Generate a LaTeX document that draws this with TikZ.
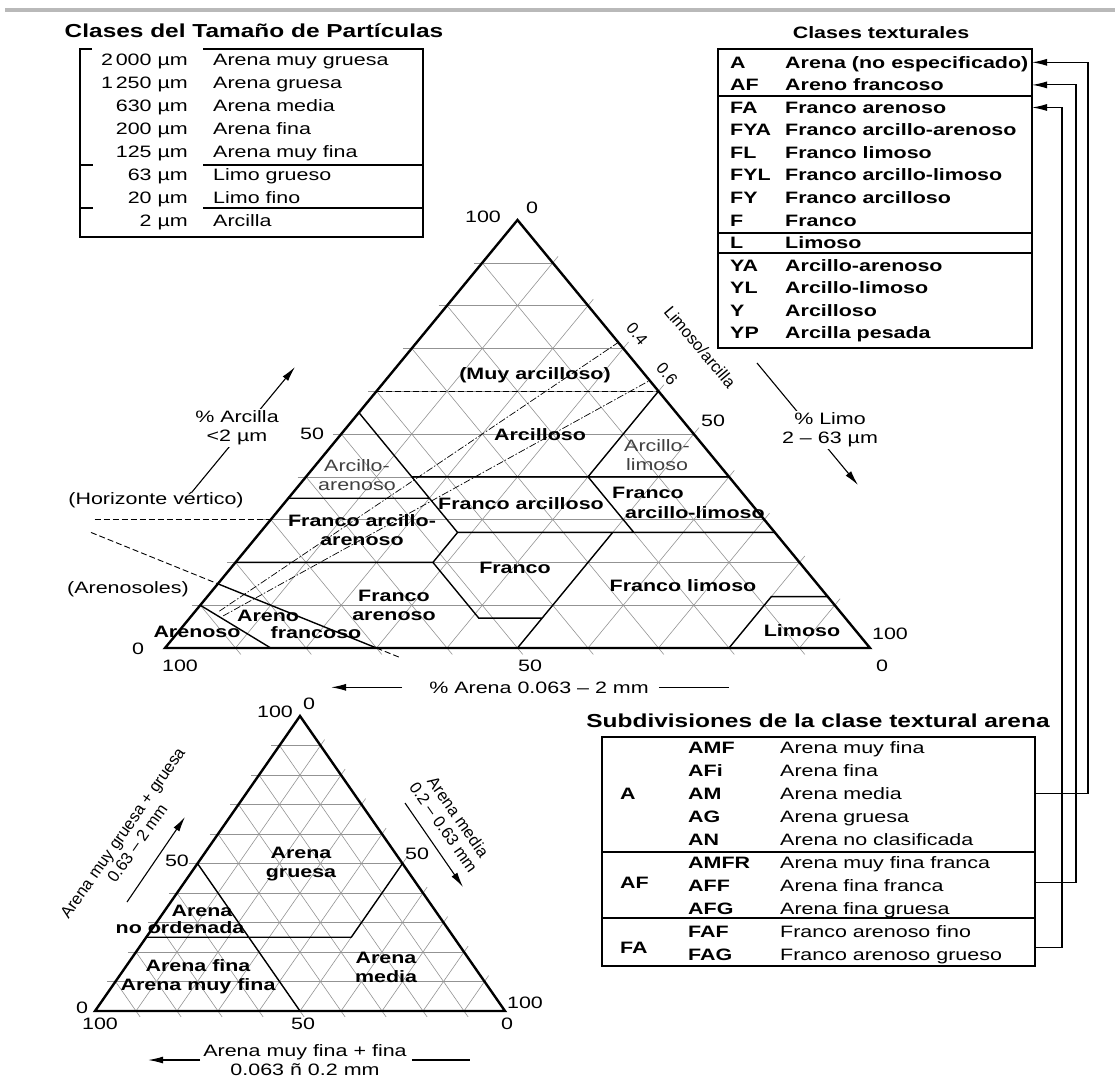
\documentclass[tikz,border=0pt]{standalone}
\usepackage{fontspec}
\setmainfont{Liberation Sans}[FakeStretch=1.3]
\newfontfamily\girada{Liberation Sans}
\usetikzlibrary{arrows.meta}
\tikzset{
  rejilla/.style={gray!85, line width=0.6pt},
  borde/.style={line width=2.4pt, line join=miter},
  limite/.style={line width=1.4pt},
  guiones/.style={line width=0.9pt, dash pattern=on 6pt off 3pt},
  tabla/.style={line width=1.2pt},
  titulo/.style={font=\fontsize{18.8}{21}\selectfont\bfseries},
  negrita/.style={font=\fontsize{16.5}{19}\selectfont\bfseries},
  clase/.style={negrita, align=center},
  giro/.style={font=\girada\fontsize{16.5}{18}\selectfont, align=center},
  flecha/.style={-{Latex[length=15pt,width=7pt]}, line width=1.1pt},
}
\begin{document}
\begin{tikzpicture}[x=1pt,y=-1pt,font=\fontsize{16.5}{19}\selectfont,inner sep=0pt]
\useasboundingbox (0,0) rectangle (1115,1079);
\draw[gray!55, line width=4pt] (5,10) -- (1115,10);

% Tamano de particulas
\node[titulo,anchor=base] (tpart) at (254,37) {Clases del Tamaño de Partículas};
\draw[tabla] (92,49) -| (80,237) -| (423,49) -- (203,49);
\draw[tabla] (80,165) -- (93,165) (203,165) -- (423,165)
             (80,208) -- (93,208) (203,208) -- (423,208);
\foreach \tam/\nom [count=\i] in {2\,000/Arena muy gruesa,1\,250/Arena gruesa,630/Arena media,
    200/Arena fina,125/Arena muy fina,63/Limo grueso,20/Limo fino,2/Arcilla}
  {\node[anchor=base east] (tam\i) at (188,65+23*\i-23) {\tam~µm};
   \node[anchor=base west] (par\i) at (213,65+23*\i-23) {\nom};}

% Clases texturales
\node[negrita,anchor=base] (tclases) at (881,38) {Clases texturales};
\draw[tabla] (718,49) rectangle (1032,348);
\coordinate (clasesD) at (1032,49);
\draw[tabla] (718,96) -- (1032,96) (718,233) -- (1032,233) (718,253) -- (1032,253);
\foreach \cod/\nom [count=\i] in {A/Arena (no especificado),AF/Areno francoso,FA/Franco arenoso,
    FYA/Franco arcillo-arenoso,FL/Franco limoso,FYL/Franco arcillo-limoso,FY/Franco arcilloso,
    F/Franco,L/Limoso,YA/Arcillo-arenoso,YL/Arcillo-limoso,Y/Arcilloso,YP/Arcilla pesada}
  {\node[negrita,anchor=base west] (c\cod) at (730,68+22.58*\i-22.58) {\cod};
   \node[negrita,anchor=base west] (n\cod) at (785,68+22.58*\i-22.58) {\nom};}

% Subdivisiones de la arena
\node[titulo,anchor=base] (tsub) at (818,727) {Subdivisiones de la clase textural arena};
\draw[tabla] (602,737) rectangle (1035,966);
\coordinate (subdivD) at (1035,737);
\draw[tabla] (602,852) -- (1035,852) (602,918) -- (1035,918);
\foreach \cod/\nom [count=\i] in {AMF/Arena muy fina,AFi/Arena fina,AM/Arena media,AG/Arena gruesa,
    AN/Arena no clasificada,AMFR/Arena muy fina franca,AFF/Arena fina franca,AFG/Arena fina gruesa,
    FAF/Franco arenoso fino,FAG/Franco arenoso grueso}
  {\node[negrita,anchor=base west] (s\cod) at (688,753+23.1*\i-23.1) {\cod};
   \node[anchor=base west] (d\cod) at (780,753+23.1*\i-23.1) {\nom};}
\node[negrita,anchor=base west] (gA) at (620,799) {A};
\node[negrita,anchor=base west] (gAF) at (620,888) {AF};
\node[negrita,anchor=base west] (gFA) at (620,953) {FA};
% Flechas entre tablas
\draw[flecha] (subdivD |- gA) -- ++(53,0) |- (clasesD |- cA);
\draw[flecha] (subdivD |- gAF) -- ++(41,0) |- (clasesD |- cAF);
\draw[flecha] (subdivD |- gFA) -- ++(27,0) |- (clasesD |- cFA);

% Triangulo principal (x = limo, y = arcilla)
\begin{scope}[shift={(165pt,-648pt)},x={(7.05pt,0pt)},y={(3.525pt,4.28pt)}]
\foreach \v in {10,20,...,90}{
  \draw[rejilla] (-1.2,\v) -- (100-\v,\v);
  \draw[rejilla] (\v,0) -- (\v,101.5-\v);
  \draw[rejilla] (101.5-\v,-1.5) -- (0,100-\v);
}
\draw[limite,dash pattern=on 6pt off 3pt] (0,60) -- (40,60);
\draw[limite] (40,60) -- (40,40) (15,40) -- (60,40) (0,55) -- (28,27)
   (0,35) -- (20,35) (40,40) -- (53,27) (28,27) -- (73,27)
   (0,20) -- (28,20) -- (41,7) -- (50,7) (28,27) -- (28,20) (50,27) -- (50,0)
   (80,0) -- (80,12) -- (88,12) (0,10) -- (15,0) (0,15) -- (30,0);
% Horizonte vertico y Arenosoles
\draw[guiones] (-25,30) -- (0,30);
\draw[guiones] (-24,27) -- (0,15) (30,0) -- (34.5,-2.25);
% Limo/arcilla
\draw[line width=0.7pt,dash pattern=on 7pt off 2pt on 1.5pt off 2pt]
   (3.4,8.6) -- (28.6,71.4) (4.5,7.5) -- (37.5,62.5);
\draw[borde] (0,0) -- (100,0) -- (0,100) -- cycle;
\end{scope}

\node[anchor=base] (p100a) at (483,222) {100};
\node[anchor=base] (p0a) at (532,213) {0};
\node[anchor=base] (p50i) at (312,439) {50};
\node[anchor=base] (p0i) at (138,654) {0};
\node[anchor=base] (p100b) at (180,671) {100};
\node[anchor=base] (p50b) at (530,671) {50};
\node[anchor=base] (p0b) at (882,671) {0};
\node[anchor=base] (p100d) at (890,639) {100};
\node[anchor=base] (p50d) at (713,426) {50};

% Clases
\node[clase,anchor=base] (muyarc) at (535,379) {(Muy arcilloso)};
\node[clase,anchor=base] (arc) at (540,440) {Arcilloso};
\node[align=center,black!75] (arclim) at (657,455) {Arcillo-\\limoso};
\node[align=center,black!75] (arcare) at (357,475) {Arcillo-\\arenoso};
\node[clase,anchor=base] (farc) at (521,509) {Franco arcilloso};
\node[negrita,anchor=base west] (farclim) at (612,498) {Franco};
\node[negrita,anchor=base west] (farclimb) at (625,518) {arcillo-limoso};
\node[clase] (farcare) at (362,530) {Franco arcillo-\\arenoso};
\node[clase,anchor=base] (franco) at (515,573) {Franco};
\node[clase,anchor=base] (flim) at (683,591) {Franco limoso};
\node[clase] (fare) at (394,605) {Franco\\arenoso};
\node[negrita,anchor=base] (arefr) at (268,621) {Areno};
\node[negrita,anchor=base] (arefrb) at (316,638) {francoso};
\node[negrita,anchor=base] (arenoso) at (197,637) {Arenoso};
\node[negrita,anchor=base] (limoso) at (802,636) {Limoso};
\node[anchor=base] (hvert) at (156,504) {(Horizonte vértico)};
\node[anchor=base] (arsoles) at (128,593) {(Arenosoles)};

% Ejes
\coordinate (arc0) at (192,492);
\coordinate (arc1) at (295,367);
\draw[flecha] (arc0) -- (arc1);
\node[fill=white,inner sep=2pt,align=center] (ejearc) at (237,428) {\% Arcilla\\<2 µm};
\coordinate (lim0) at (757,363);
\coordinate (lim1) at (858,485);
\draw[flecha] (lim0) -- (lim1);
\node[fill=white,inner sep=2pt,align=center] (ejelim) at (830,430) {\% Limo\\2 – 63 µm};
\node[anchor=base] (ejeare) at (539,693) {\% Arena 0.063 – 2 mm};
\draw[flecha] ([xshift=-27pt]ejeare.west) -- ++(-71,0);
\draw[line width=1.1pt] ([xshift=10pt]ejeare.east) -- ++(70,0);
\node[giro,rotate=-50] (limarc) at (700,347) {Limoso/arcilla};
\node[giro,rotate=-50] (r04) at (637,334) {0.4};
\node[giro,rotate=-50] (r06) at (667,374) {0.6};

% Triangulo de la arena (x = media, y = gruesa)
\begin{scope}[shift={(95pt,-1011pt)},x={(4.1pt,0pt)},y={(2.05pt,2.95pt)}]
\foreach \v in {10,20,...,90}{
  \draw[rejilla] (-2,\v) -- (100-\v,\v);
  \draw[rejilla] (\v,0) -- (\v,102-\v);
  \draw[rejilla] (102-\v,-2) -- (0,100-\v);
}
\draw[limite] (0,50) -- (50,0) (50,50) -- (50,25) (0,25) -- (50,25);
\draw[borde] (0,0) -- (100,0) -- (0,100) -- cycle;
\end{scope}

\node[anchor=base] (q100a) at (275,717) {100};
\node[anchor=base] (q0a) at (309,709) {0};
\node[anchor=base] (q50i) at (177,866) {50};
\node[anchor=base] (q50d) at (417,859) {50};
\node[anchor=base] (q0i) at (82,1013) {0};
\node[anchor=base] (q100b) at (100,1029) {100};
\node[anchor=base] (q50b) at (303,1029) {50};
\node[anchor=base] (q0b) at (507,1029) {0};
\node[anchor=base] (q100d) at (525,1008) {100};

\node[clase] (agru) at (301,864) {Arena\\gruesa};
\node[negrita,anchor=base] (anord) at (202,916) {Arena};
\node[negrita,anchor=base] (anordb) at (180,933) {no ordenada};
\node[clase] (afina) at (198,977) {Arena fina\\Arena muy fina};
\node[clase] (amed) at (386,967) {Arena\\media};

\node[giro,rotate=55] (ejegru) at (130,838) {Arena muy gruesa + gruesa\\0.63 – 2 mm};
\coordinate (gru0) at (127,902);
\coordinate (gru1) at (185,817);
\draw[flecha] (gru0) -- (gru1);
\node[giro,rotate=-55] (ejemed) at (451,822) {Arena media\\0.2 – 0.63 mm};
\coordinate (med0) at (405,803);
\coordinate (med1) at (463,887);
\draw[flecha] (med0) -- (med1);
\node[align=center] (ejefin) at (305,1060) {Arena muy fina + fina\\0.063 ñ 0.2 mm};
\draw[flecha] ([xshift=-3pt]ejefin.west) -- ++(-52,0);
\draw[line width=1.1pt] ([xshift=5pt]ejefin.east) -- ++(58,0);
\end{tikzpicture}
\end{document}
